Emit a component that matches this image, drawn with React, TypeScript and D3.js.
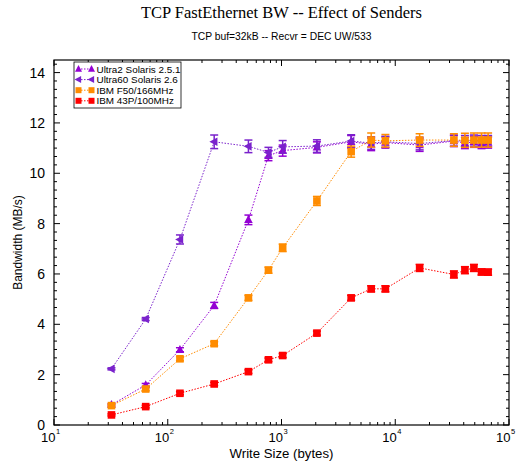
import React from "react";
import { scaleLog, scaleLinear, line, range } from "d3";

// write sizes in bytes
const writeSizes = [32, 64, 128, 256, 512, 768, 1024, 2048, 4096, 6144, 8192, 16384, 32768, 40960, 49152, 57344, 65536];

const ultra2 = [0.8, 1.59, 2.99, 4.75, 8.15, 10.7, 10.9, 11.03, 11.25, 11.15, 11.22, 11.12, 11.28, 11.2, 11.25, 11.2, 11.22];
const ultra2Err = [0.04, 0.06, 0.08, 0.12, 0.19, 0.2, 0.22, 0.22, 0.25, 0.25, 0.22, 0.25, 0.22, 0.22, 0.22, 0.22, 0.22];
const ultra60 = [2.23, 4.21, 7.37, 11.25, 11.07, 10.83, 11.05, 11.08, 11.28, 11.2, 11.25, 11.18, 11.3, 11.28, 11.3, 11.28, 11.28];
const ultra60Err = [0.04, 0.06, 0.18, 0.27, 0.25, 0.2, 0.25, 0.25, 0.25, 0.25, 0.22, 0.25, 0.22, 0.22, 0.22, 0.22, 0.22];
const f50 = [0.77, 1.43, 2.63, 3.23, 5.05, 6.15, 7.04, 8.9, 10.86, 11.32, 11.29, 11.32, 11.32, 11.31, 11.32, 11.32, 11.32];
const f50Err = [0.05, 0.07, 0.08, 0.08, 0.1, 0.12, 0.15, 0.18, 0.22, 0.28, 0.25, 0.25, 0.25, 0.28, 0.28, 0.28, 0.28];
const p43 = [0.4, 0.73, 1.26, 1.63, 2.12, 2.59, 2.76, 3.65, 5.05, 5.41, 5.41, 6.24, 5.98, 6.15, 6.24, 6.08, 6.07];
const p43Err = [0.04, 0.05, 0.06, 0.06, 0.07, 0.07, 0.08, 0.08, 0.1, 0.12, 0.12, 0.14, 0.14, 0.14, 0.14, 0.12, 0.12];

const seriesNames = ["Ultra2 Solaris 2.5.1", "Ultra60 Solaris 2.6", "IBM F50/166MHz", "IBM 43P/100MHz"];
const seriesColors = ["#9400d3", "#7a22cc", "#ff8c00", "#ff0000"];
const seriesShapes = ["triUp", "triLeft", "square", "square"];
const seriesValues = [ultra2, ultra60, f50, p43];
const seriesErrors = [ultra2Err, ultra60Err, f50Err, p43Err];

const yTicks = [0, 2, 4, 6, 8, 10, 12, 14];
const xDecades = [1, 2, 3, 4, 5];

const W = 516, H = 463;
const left = 54, right = 509, top = 60, bottom = 425;
const sans = "'Liberation Sans', Arial, Helvetica, sans-serif";

function Marker(props) {
    const { shape, x, y, color, size } = props;
    const s = size || 4.3;
    if (shape === "triUp") {
        return <path d={`M${x},${y - s - 0.5} L${x + s},${y + s * 0.75} L${x - s},${y + s * 0.75} Z`} fill={color} />;
    }
    if (shape === "triLeft") {
        return <path d={`M${x - s - 0.5},${y} L${x + s * 0.75},${y - s} L${x + s * 0.75},${y + s} Z`} fill={color} />;
    }
    return <rect x={x - s + 0.5} y={y - s + 0.5} width={2 * s - 1} height={2 * s - 1} fill={color} />;
}

export default function App() {
    const x = scaleLog().domain([10, 1e5]).range([left, right]);
    const y = scaleLinear().domain([0, 14.5]).range([bottom, top]);

    const minorX = xDecades.slice(0, -1).flatMap(d => range(2, 10).map(m => m * Math.pow(10, d)));
    const minorY = range(0, 14.5, 1 / 3).filter(v => Math.abs(v / 2 - Math.round(v / 2)) > 0.01);

    const lineGen = line().x(d => x(d[0])).y(d => y(d[1]));

    return (
        <svg width={W} height={H} style={{ position: "absolute", left: 0, top: 0, background: "white" }}>
            <rect width={W} height={H} fill="white" />

            {/* titles */}
            <text x={281.5} y={18} textAnchor="middle" fontFamily="'Liberation Serif', 'Times New Roman', serif" fontSize={16.5}>
                TCP FastEthernet BW --  Effect of Senders
            </text>
            <text x={281.5} y={40} textAnchor="middle" fontFamily={sans} fontSize={10.3}>
                TCP buf=32kB -- Recvr = DEC UW/533
            </text>

            {/* series */}
            {seriesValues.map((vals, si) => {
                const pts = writeSizes.map((w, i) => [w, vals[i]]);
                const color = seriesColors[si];
                return (
                    <g key={si}>
                        <path d={lineGen(pts)} fill="none" stroke={color} strokeWidth={1} strokeDasharray="1.5,1.5" />
                        {pts.map((p, i) => {
                            const px = x(p[0]);
                            const e = seriesErrors[si][i];
                            const y0 = y(p[1] - e), y1 = y(p[1] + e);
                            return (
                                <g key={i}>
                                    <line x1={px} x2={px} y1={y0} y2={y1} stroke={color} strokeWidth={1.5} />
                                    <line x1={px - 4} x2={px + 4} y1={y0} y2={y0} stroke={color} strokeWidth={1.5} />
                                    <line x1={px - 4} x2={px + 4} y1={y1} y2={y1} stroke={color} strokeWidth={1.5} />
                                    <Marker shape={seriesShapes[si]} x={px} y={y(p[1])} color={color} />
                                </g>
                            );
                        })}
                    </g>
                );
            })}

            {/* frame + ticks */}
            <rect x={left} y={top} width={right - left} height={bottom - top} fill="none" stroke="black" strokeWidth={1.2} />
            {xDecades.map(d => {
                const px = x(Math.pow(10, d));
                return (
                    <g key={"xd" + d}>
                        <line x1={px} x2={px} y1={bottom} y2={bottom - 6} stroke="black" />
                        <line x1={px} x2={px} y1={top} y2={top + 6} stroke="black" />
                    </g>
                );
            })}
            {minorX.map((v, i) => (
                <g key={"xm" + i}>
                    <line x1={x(v)} x2={x(v)} y1={bottom} y2={bottom - 3} stroke="black" />
                    <line x1={x(v)} x2={x(v)} y1={top} y2={top + 3} stroke="black" />
                </g>
            ))}
            {yTicks.map(v => (
                <g key={"yt" + v}>
                    <line x1={left} x2={left + 6} y1={y(v)} y2={y(v)} stroke="black" />
                    <line x1={right} x2={right - 6} y1={y(v)} y2={y(v)} stroke="black" />
                    <text x={45} y={y(v) + 5} textAnchor="end" fontFamily={sans} fontSize={14}>{v}</text>
                </g>
            ))}
            {minorY.map((v, i) => (
                <g key={"ym" + i}>
                    <line x1={left} x2={left + 3} y1={y(v)} y2={y(v)} stroke="black" />
                    <line x1={right} x2={right - 3} y1={y(v)} y2={y(v)} stroke="black" />
                </g>
            ))}

            {/* x tick labels */}
            {xDecades.map(d => {
                const px = x(Math.pow(10, d));
                return (
                    <g key={"xl" + d}>
                        <text x={px + 1.5} y={442} textAnchor="end" fontFamily={sans} fontSize={13}>10</text>
                        <text x={px + 2} y={434} fontFamily={sans} fontSize={7.5}>{d}</text>
                    </g>
                );
            })}

            {/* axis titles */}
            <text x={281.5} y={458} textAnchor="middle" fontFamily={sans} fontSize={13.2}>Write Size (bytes)</text>
            <text transform={`translate(22, ${(top + bottom) / 2}) rotate(-90)`} textAnchor="middle" fontFamily={sans} fontSize={12}>
                Bandwidth (MB/s)
            </text>

            {/* legend */}
            <rect x={74} y={62} width={107} height={46} fill="white" stroke="black" strokeWidth={0.8} />
            {seriesNames.map((name, i) => {
                const ly = 69 + i * 10.6;
                return (
                    <g key={"lg" + i}>
                        <line x1={78} x2={92} y1={ly} y2={ly} stroke={seriesColors[i]} strokeDasharray="1.5,1.5" />
                        <Marker shape={seriesShapes[i]} x={78.5} y={ly} color={seriesColors[i]} size={3.5} />
                        <Marker shape={seriesShapes[i]} x={91.5} y={ly} color={seriesColors[i]} size={3.5} />
                        <text x={96.5} y={ly + 3.5} fontFamily={sans} fontSize={9.9}>{name}</text>
                    </g>
                );
            })}
        </svg>
    );
}
